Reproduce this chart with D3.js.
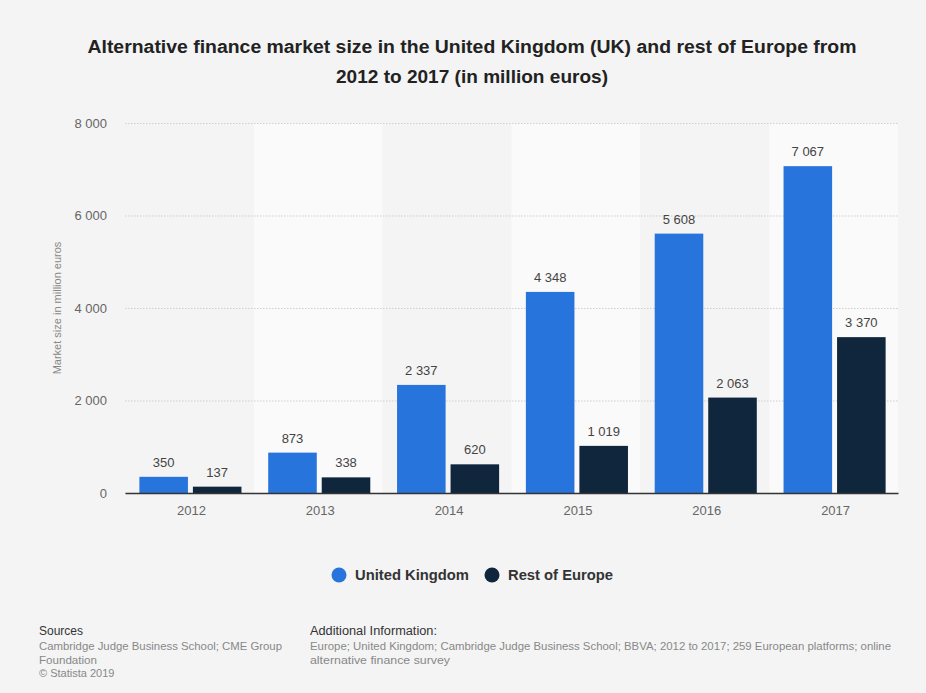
<!DOCTYPE html>
<html>
<head>
<meta charset="utf-8">
<script src="https://cdn.jsdelivr.net/npm/d3@7/dist/d3.min.js"></script>
<style>
  html, body { margin: 0; padding: 0; background: #f4f4f4; }
  svg { display: block; font-family: "Liberation Sans", Arial, sans-serif; }
</style>
</head>
<body>
<svg id="chart" width="926" height="693"></svg>
<script>
// Chart data
const years = ["2012", "2013", "2014", "2015", "2016", "2017"];
const seriesNames = ["United Kingdom", "Rest of Europe"];
const ukValues = [350, 873, 2337, 4348, 5608, 7067];
const europeValues = [137, 338, 620, 1019, 2063, 3370];
const yTicks = [0, 2000, 4000, 6000, 8000];
const seriesColors = ["#2774dc", "#10263d"];

const titleLines = [
  "Alternative finance market size in the United Kingdom (UK) and rest of Europe from",
  "2012 to 2017 (in million euros)"
];
const yAxisTitle = "Market size in million euros";
const sourcesLines = ["Cambridge Judge Business School; CME Group", "Foundation", "\u00A9 Statista 2019"];
const infoLines = [
  "Europe; United Kingdom; Cambridge Judge Business School; BBVA; 2012 to 2017; 259 European platforms; online",
  "alternative finance survey"
];

const svg = d3.select("#chart");
const W = 926, H = 693;
const plot = { left: 125, right: 898, top: 123, bottom: 493 };

svg.append("rect").attr("width", W).attr("height", H).attr("fill", "#f4f4f4");

// numbers use a space as thousands separator
const fmtSp = v => d3.format(",")(v).replace(/,/g, " ");

const x0 = d3.scaleBand().domain(years).range([plot.left, plot.right]).paddingInner(0).paddingOuter(0);
const x1 = d3.scaleBand().domain(seriesNames).range([0, x0.bandwidth()]).paddingInner(0.0926).paddingOuter(0.25);
const y = d3.scaleLinear().domain([0, 8000]).range([plot.bottom, plot.top]);

// alternating column shading
svg.append("g").selectAll("rect").data(years).join("rect")
  .attr("x", d => x0(d)).attr("y", plot.top)
  .attr("width", x0.bandwidth()).attr("height", plot.bottom - plot.top)
  .attr("fill", (d, i) => i % 2 === 1 ? "#fafafa" : "#f4f4f4");

// gridlines + y tick labels
const yAxis = d3.axisLeft(y).tickValues(yTicks).tickSize(-(plot.right - plot.left)).tickFormat(fmtSp).tickPadding(18);
const gy = svg.append("g").attr("transform", `translate(${plot.left},0)`).call(yAxis);
gy.select(".domain").remove();
gy.selectAll(".tick line").attr("stroke", "#cfcfcf").attr("stroke-dasharray", "1.5,1.5").attr("stroke-width", 1);
gy.selectAll(".tick text").attr("fill", "#666").attr("font-size", 13).attr("font-family", "Liberation Sans, Arial, sans-serif");

// y-axis title
svg.append("text")
  .attr("transform", `translate(61,${(plot.top + plot.bottom) / 2}) rotate(-90)`)
  .attr("text-anchor", "middle").attr("fill", "#888").attr("font-size", 11)
  .text(yAxisTitle);

// bars
const data = years.map((yr, i) => ({ year: yr, values: [ukValues[i], europeValues[i]] }));
const groups = svg.append("g").selectAll("g").data(data).join("g")
  .attr("transform", d => `translate(${x0(d.year) + 1},0)`);

groups.selectAll("rect").data(d => d.values.map((v, k) => ({ key: seriesNames[k], v, k })))
  .join("rect")
  .attr("x", d => x1(d.key)).attr("width", x1.bandwidth())
  .attr("y", d => y(d.v)).attr("height", d => y(0) - y(d.v))
  .attr("fill", d => seriesColors[d.k]);

groups.selectAll("text").data(d => d.values.map((v, k) => ({ key: seriesNames[k], v, k })))
  .join("text")
  .attr("x", d => x1(d.key) + x1.bandwidth() / 2)
  .attr("y", d => y(d.v) - 10)
  .attr("text-anchor", "middle").attr("fill", "#444").attr("font-size", 13)
  .text(d => fmtSp(d.v));

// x axis
const xAxis = d3.axisBottom(x0).tickSize(0).tickPadding(13);
const gx = svg.append("g").attr("transform", `translate(0,${plot.bottom})`).call(xAxis);
gx.select(".domain").attr("stroke", "#333").attr("stroke-width", 1.5);
gx.selectAll(".tick text").attr("fill", "#666").attr("font-size", 13).attr("font-family", "Liberation Sans, Arial, sans-serif")
  .attr("dx", 2);

// fit a text element to a given width
function fitWidth(sel, width) {
  sel.each(function () {
    const w = this.getComputedTextLength();
    if (Math.abs(w - width) > 2) {
      d3.select(this).attr("textLength", width).attr("lengthAdjust", "spacingAndGlyphs");
    }
  });
}

// title
const titleWidths = [769, 272];
titleLines.forEach((t, i) => {
  svg.append("text")
    .attr("x", 472).attr("y", 53 + i * 30)
    .attr("text-anchor", "middle").attr("fill", "#222")
    .attr("font-size", 18).attr("font-weight", "bold")
    .text(t).call(fitWidth, titleWidths[i]);
});

// legend
const legend = svg.append("g");
const legendItems = [{ x: 339, label: seriesNames[0], w: 114 }, { x: 492, label: seriesNames[1], w: 105 }];
legendItems.forEach((it, i) => {
  legend.append("circle").attr("cx", it.x).attr("cy", 575).attr("r", 7.5).attr("fill", seriesColors[i]);
  legend.append("text").attr("x", it.x + 16).attr("y", 580)
    .attr("fill", "#333").attr("font-size", 14).attr("font-weight", "bold")
    .text(it.label).call(fitWidth, it.w);
});

// footer
svg.append("text").attr("x", 39).attr("y", 635).attr("fill", "#333").attr("font-size", 12)
  .text("Sources").call(fitWidth, 44);
const srcWidths = [243, 58, 77];
sourcesLines.forEach((t, i) => {
  svg.append("text").attr("x", 39).attr("y", 650 + i * 13.5).attr("fill", "#888").attr("font-size", 11)
    .text(t).call(fitWidth, srcWidths[i]);
});
svg.append("text").attr("x", 310).attr("y", 635).attr("fill", "#333").attr("font-size", 12)
  .text("Additional Information:").call(fitWidth, 127);
const infoWidths = [581, 140];
infoLines.forEach((t, i) => {
  svg.append("text").attr("x", 310).attr("y", 650 + i * 13.5).attr("fill", "#888").attr("font-size", 11)
    .text(t).call(fitWidth, infoWidths[i]);
});
</script>
</body>
</html>
